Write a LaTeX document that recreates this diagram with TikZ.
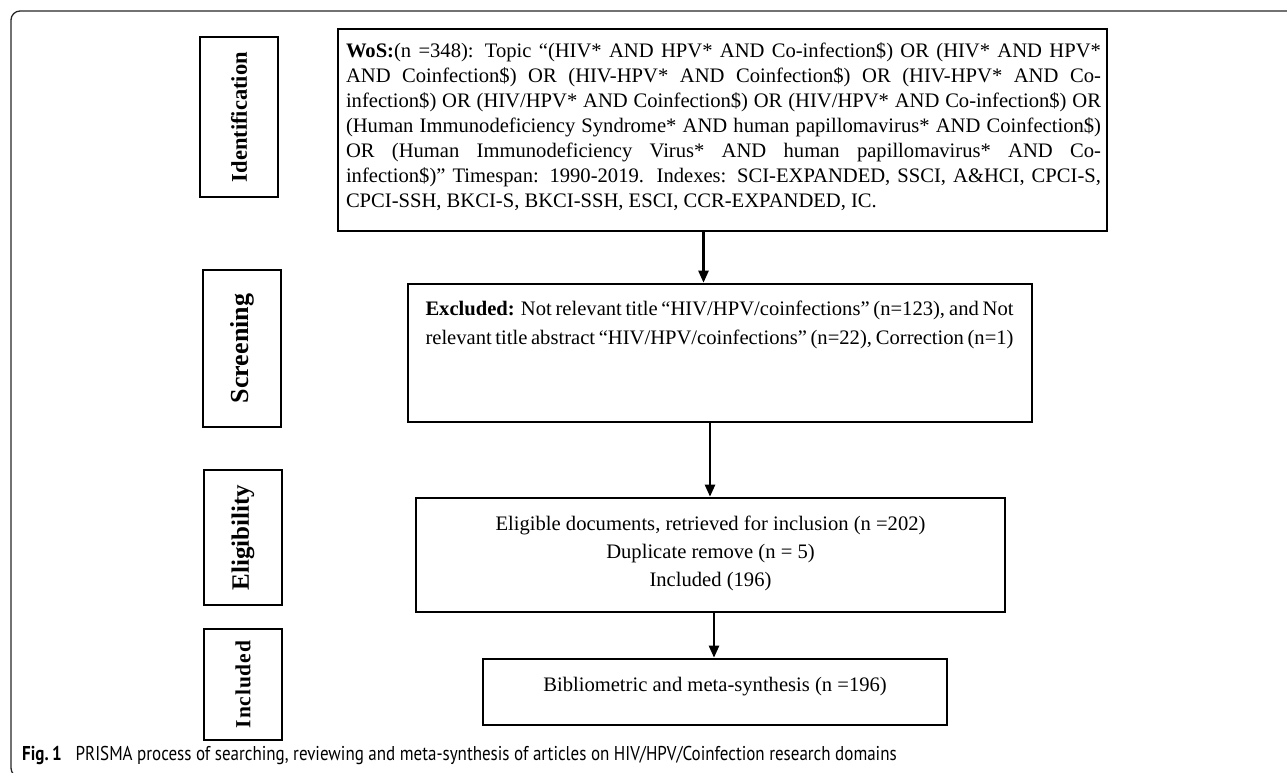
\documentclass[tikz,border=0pt]{standalone}
\usepackage{fontspec}
\usepackage{graphicx}
\setmainfont{Liberation Serif}
\newfontfamily\capfont[FakeStretch=0.85]{PT Sans}
\newfontfamily\spacedA[LetterSpace=4]{Liberation Serif}
\usetikzlibrary{arrows.meta}
\begin{document}
\begin{tikzpicture}[x=1pt,y=-1pt,
  flowbox/.style={draw=black, line width=2.6pt, rectangle, inner sep=0pt},
  stagebox/.style={draw=black, line width=2.6pt, rectangle, inner sep=0pt,
    minimum width=78, font=\fontsize{22.5}{27}\selectfont\bfseries},
  arr/.style={line width=2.4pt, -{Triangle[length=12pt,width=10pt]}},
  body/.style={inner sep=0pt, align=left, font=\fontsize{20.6}{25}\selectfont},
  framestyle/.style={draw=black!85, line width=1.3pt, rounded corners=9pt},
]
\useasboundingbox (0,0) rectangle (1287,772);
\draw[framestyle] (1300,11) -- (11,11) -- (11,777) -- (1300,777);

% stage labels
\node[stagebox, minimum height=160] (sid) at (239,117) {\rotatebox{90}{Identification}};
\node[stagebox, minimum height=157, font=\fontsize{26}{30}\selectfont\bfseries] (ssc) at (242,348.5) {\rotatebox{90}{Screening}};
\node[stagebox, minimum height=135, font=\fontsize{25}{30}\selectfont\bfseries] (sel) at (243,537.5) {\rotatebox{90}{Eligibility}};
\node[stagebox, minimum height=111, font=\fontsize{21.5}{26}\selectfont\bfseries] (sin) at (243,684.5) {\rotatebox{90}{\spacedA\bfseries Included}};

% flow boxes
\node[flowbox, minimum width=769, minimum height=202] (wos) at (722.5,130) {};
\node[flowbox, minimum width=624, minimum height=138] (scr) at (720,353) {};
\node[flowbox, minimum width=589, minimum height=114] (eli) at (710.5,555) {};
\node[flowbox, minimum width=464, minimum height=66] (inc) at (715,692) {};

% texts
\node[body] (wost) at (723.5,126.5) {%
\makebox[755pt][s]{\textbf{WoS:}(n =348): Topic “(HIV* AND HPV* AND Co-infection\$) OR (HIV* AND HPV*}\\
\makebox[755pt][s]{AND Coinfection\$) OR (HIV-HPV* AND Coinfection\$) OR (HIV-HPV* AND Co-}\\
\makebox[755pt][s]{infection\$) OR (HIV/HPV* AND Coinfection\$) OR (HIV/HPV* AND Co-infection\$) OR}\\
\makebox[755pt][s]{(Human Immunodeficiency Syndrome* AND human papillomavirus* AND Coinfection\$)}\\
\makebox[755pt][s]{OR (Human Immunodeficiency Virus* AND human papillomavirus* AND Co-}\\
\makebox[755pt][s]{infection\$)” Timespan: 1990-2019. Indexes: SCI-EXPANDED, SSCI, A\&HCI, CPCI-S,}\\
CPCI-SSH, BKCI-S, BKCI-SSH, ESCI, CCR-EXPANDED, IC.};

\node[body, font=\fontsize{20.6}{29}\selectfont] (scrt) at (719.5,325) {%
\makebox[588pt][s]{\textbf{Excluded:} Not relevant title “HIV/HPV/coinfections” (n=123), and Not}\\
\makebox[588pt][s]{relevant title abstract “HIV/HPV/coinfections” (n=22), Correction (n=1)}};

\node[body, align=center, font=\fontsize{20.6}{28}\selectfont] (elit) at (710.5,553) {%
Eligible documents, retrieved for inclusion (n =202)\\
Duplicate remove (n = 5)\\
Included (196)};

\node[body, align=center] (inct) at (715,687) {Bibliometric and meta-synthesis (n =196)};

% arrows
\coordinate (ax1) at (703.5,0);
\coordinate (ax2) at (710,0);
\coordinate (ax3) at (714,0);
\draw[arr] (wos.south -| ax1) -- (scr.north -| ax1);
\draw[arr] (scr.south -| ax2) -- (eli.north -| ax2);
\draw[arr] (eli.south -| ax3) -- (inc.north -| ax3);

% caption
\node[anchor=west, inner sep=0pt, font=\capfont\fontsize{20}{23}\selectfont] (cap) at (22,755)
  {\textbf{Fig.\,1}\hspace{0.7em}PRISMA process of searching, reviewing and meta-synthesis of articles on HIV/HPV/Coinfection research domains};
\end{tikzpicture}
\end{document}
